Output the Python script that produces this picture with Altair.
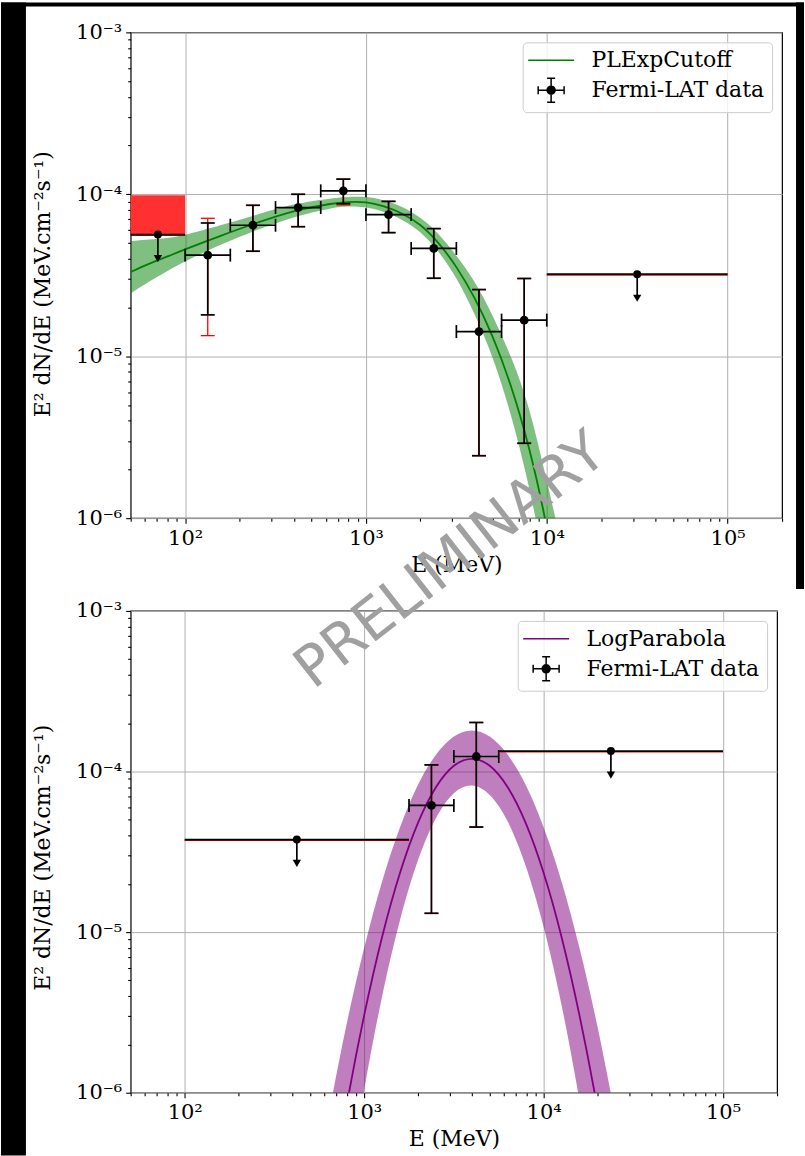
import altair as alt
import pandas as pd

# ---------------- data: top panel (PLExpCutoff) ----------------
top_model_E = [50, 63.1, 79.4, 100, 158.5, 251.2, 398.1, 631, 794.3, 1000, 1259, 1585, 1995,
               2512, 3162, 3981, 5012, 6310, 7943, 10000, 12589]
top_model_F = [3.31e-5, 3.72e-5, 4.12e-5, 4.57e-5, 5.56e-5, 6.68e-5, 7.85e-5, 8.71e-5, 8.95e-5,
               8.91e-5, 8.41e-5, 7.59e-5, 6.46e-5, 5.01e-5, 3.55e-5, 2.29e-5, 1.32e-5, 6.61e-6,
               2.75e-6, 8.71e-7, 2.0e-7]
top_band_hi = [5.13e-5, 5.25e-5, 5.37e-5, 5.62e-5, 6.46e-5, 7.50e-5, 8.65e-5, 9.40e-5, 9.62e-5,
               9.62e-5, 9.15e-5, 8.36e-5, 7.16e-5, 5.69e-5, 4.17e-5, 2.88e-5, 1.78e-5, 1.0e-5,
               4.79e-6, 1.70e-6, 5.6e-7]
top_band_lo = [2.45e-5, 2.88e-5, 3.35e-5, 3.85e-5, 4.90e-5, 6.03e-5, 7.20e-5, 8.15e-5, 8.40e-5,
               8.30e-5, 7.78e-5, 6.95e-5, 5.82e-5, 4.42e-5, 3.02e-5, 1.82e-5, 9.77e-6, 4.37e-6,
               1.58e-6, 4.37e-7, 1.0e-7]

top_pt_E = [133.4, 237.1, 421.7, 749.9, 1333.5, 2371.4, 4217.0, 7498.9]
top_pt_Elo = [100, 177.8, 316.2, 562.3, 1000, 1778.3, 3162.3, 5623.4]
top_pt_Ehi = [177.8, 316.2, 562.3, 1000, 1778.3, 3162.3, 5623.4, 10000]
top_pt_F = [4.21e-5, 6.44e-5, 8.28e-5, 1.05e-4, 7.49e-5, 4.63e-5, 1.42e-5, 1.67e-5]
top_pt_Flo = [1.80e-5, 4.45e-5, 6.31e-5, 8.75e-5, 5.80e-5, 3.03e-5, 2.43e-6, 2.90e-6]
top_pt_Fhi = [6.65e-5, 8.55e-5, 1.00e-4, 1.24e-4, 9.05e-5, 6.14e-5, 2.58e-5, 3.02e-5]
top_pt_Flo_sys = [1.34e-5, 4.45e-5, 6.31e-5, 8.60e-5, 5.80e-5, 3.03e-5, 2.43e-6, 2.90e-6]
top_pt_Fhi_sys = [7.11e-5, 8.55e-5, 1.00e-4, 1.24e-4, 9.05e-5, 6.14e-5, 2.58e-5, 3.02e-5]

top_ul_E = [70.7, 31623]
top_ul_Elo = [50, 10000]
top_ul_Ehi = [100, 100000]
top_ul_F = [5.64e-5, 3.21e-5]
top_ul_arrow = [4.0e-5, 2.28e-5]

top_box_Elo = [50]
top_box_Ehi = [100]
top_box_Flo = [5.64e-5]
top_box_Fhi = [9.85e-5]

# ---------------- data: bottom panel (LogParabola) ----------------
bot_model_E = [631, 794, 1000, 1259, 1585, 1995, 2512, 3162, 3981, 5012, 6310, 7943, 10000,
               12589, 15849, 19953, 25119]
bot_model_F = [1.74e-7, 8.0e-7, 3.03e-6, 9.33e-6, 2.34e-5, 4.79e-5, 7.98e-5, 1.086e-4, 1.20e-4,
               1.086e-4, 7.98e-5, 4.79e-5, 2.34e-5, 9.33e-6, 3.03e-6, 8.0e-7, 1.74e-7]
bot_band_hi = [7.06e-7, 2.59e-6, 7.96e-6, 2.07e-5, 4.50e-5, 8.26e-5, 1.27e-4, 1.65e-4, 1.80e-4,
               1.65e-4, 1.27e-4, 8.26e-5, 4.50e-5, 2.07e-5, 7.96e-6, 2.59e-6, 7.06e-7]
bot_band_lo = [3.3e-8, 2.11e-7, 1.04e-6, 3.98e-6, 1.19e-5, 2.80e-5, 5.12e-5, 7.33e-5, 8.18e-5,
               7.14e-5, 4.88e-5, 2.59e-5, 1.08e-5, 3.52e-6, 8.93e-7, 1.77e-7, 2.75e-8]

bot_pt_E = [2371.4, 4217.0]
bot_pt_Elo = [1778.3, 3162.3]
bot_pt_Ehi = [3162.3, 5623.4]
bot_pt_F = [6.15e-5, 1.24e-4]
bot_pt_Flo = [1.31e-5, 4.51e-5]
bot_pt_Fhi = [1.10e-4, 2.02e-4]

bot_ul_E = [421.7, 23714]
bot_ul_Elo = [100, 5623.4]
bot_ul_Ehi = [1778.3, 100000]
bot_ul_F = [3.77e-5, 1.34e-4]
bot_ul_arrow = [2.68e-5, 9.51e-5]

watermark = ["PRELIMINARY"]

# tick values: labelled decades and unlabelled minor ticks
x_major = [100, 1000, 10000, 100000]
x_minor = [50, 60, 70, 80, 90, 200, 300, 400, 500, 600, 700, 800, 900,
           2000, 3000, 4000, 5000, 6000, 7000, 8000, 9000,
           20000, 30000, 40000, 50000, 60000, 70000, 80000, 90000, 200000]
y_major = [1e-6, 1e-5, 1e-4, 1e-3]
y_minor = [2e-6, 3e-6, 4e-6, 5e-6, 6e-6, 7e-6, 8e-6, 9e-6,
           2e-5, 3e-5, 4e-5, 5e-5, 6e-5, 7e-5, 8e-5, 9e-5,
           2e-4, 3e-4, 4e-4, 5e-4, 6e-4, 7e-4, 8e-4, 9e-4]

X_LABELS = ("datum.value >= 99999 ? '10⁵' : datum.value >= 9999 ? '10⁴' : "
            "datum.value >= 999 ? '10³' : '10²'")
Y_LABELS = ("datum.value >= 0.00099 ? '10⁻³' : datum.value >= 0.000099 ? '10⁻⁴' : "
            "datum.value >= 0.0000099 ? '10⁻⁵' : '10⁻⁶'")

FONT = "DejaVu Serif"
LINE_PATH = "M-1.25,0H3.35"


def ring(cx, r):
    return f"M{cx + r},0A{r},{r},0,1,1,{cx - r},0A{r},{r},0,1,1,{cx + r},0"


ERR_PATH = ("M-0.25,0H2.35M-0.25,-0.4V0.4M2.35,-0.4V0.4M1.05,-1.2V1.2M0.65,-1.2H1.45M0.65,1.2H1.45"
            + ring(1.05, 0.4) + ring(1.05, 0.28) + ring(1.05, 0.16) + ring(1.05, 0.05))


def x_major_axis():
    return alt.Axis(orient="bottom", values=x_major, labelExpr=X_LABELS, title="E (MeV)",
                    titlePadding=6, grid=True, tickSize=5, labelOverlap=False,
                    labelFlush=False, domain=False)


def y_major_axis(title_y):
    return alt.Axis(orient="left", values=y_major, labelExpr=Y_LABELS,
                    title="E² dN/dE (MeV.cm⁻²s⁻¹)", titlePadding=21, titleY=title_y,
                    grid=True, tickSize=5, labelOverlap=False, labelFlush=False, domain=False)


def minor_axis(orient):
    return alt.Axis(orient=orient, values=(x_minor if orient == "bottom" else y_minor),
                    labels=False, title=None, grid=False, tickSize=3, domain=False)


def panel(model_name, color, width, height, legend_offset, title_y, m_df, p_df, u_df,
          box_df=None, extra=()):
    xs = alt.Scale(type="log", domain=[50, 200000], nice=False)
    ys = alt.Scale(type="log", domain=[1e-6, 1e-3], nice=False)

    def X(f, axis=None):
        return alt.X(f, type="quantitative", scale=xs, axis=axis)

    def Y(f, axis=None):
        return alt.Y(f, type="quantitative", scale=ys, axis=axis)

    lw = 1.7
    lw_red = 1.3
    layers = []
    layers.append(alt.Chart(m_df).mark_area(color=color, opacity=0.5, interpolate="natural",
                                            clip=True).encode(
        x=X("E", x_major_axis()), y=Y("hi", y_major_axis(title_y)), y2="lo"))
    layers.append(alt.Chart(m_df).mark_line(color=color, strokeWidth=1.8, interpolate="natural",
                                            clip=True).encode(
        x=X("E", minor_axis("bottom")), y=Y("F", minor_axis("left"))))
    if box_df is not None:
        layers.append(alt.Chart(box_df).mark_rect(color="#ff3030", opacity=1).encode(
            x=X("Elo"), x2="Ehi", y=Y("Flo"), y2="Fhi"))
    # systematic (red) error bars underneath
    layers.append(alt.Chart(p_df).mark_rule(color="red", strokeWidth=lw_red).encode(
        x=X("E"), y=Y("Flo_s"), y2="Fhi_s"))
    for f in ["Flo_s", "Fhi_s"]:
        layers.append(alt.Chart(p_df).mark_tick(orient="horizontal", color="red",
                                                thickness=lw_red, opacity=1).encode(
            x=X("E"), y=Y(f), size=alt.value(14)))
    # statistical (black) error bars
    layers.append(alt.Chart(p_df).mark_rule(color="black", strokeWidth=lw).encode(
        x=X("E"), y=Y("Flo"), y2="Fhi"))
    layers.append(alt.Chart(p_df).mark_rule(color="black", strokeWidth=lw).encode(
        x=X("Elo"), x2="Ehi", y=Y("F")))
    for f in ["Flo", "Fhi"]:
        layers.append(alt.Chart(p_df).mark_tick(orient="horizontal", color="black",
                                                thickness=lw, opacity=1).encode(
            x=X("E"), y=Y(f), size=alt.value(14)))
    for f in ["Elo", "Ehi"]:
        layers.append(alt.Chart(p_df).mark_tick(orient="vertical", color="black",
                                                thickness=lw, opacity=1).encode(
            x=X(f), y=Y("F"), size=alt.value(13)))
    layers.append(alt.Chart(p_df).mark_circle(color="black", opacity=1, size=78).encode(
        x=X("E"), y=Y("F")))
    # upper limits
    layers.append(alt.Chart(u_df).mark_rule(color="red", strokeWidth=1.2, yOffset=0.9).encode(
        x=X("Elo"), x2="Ehi", y=Y("F")))
    layers.append(alt.Chart(u_df).mark_rule(color="black", strokeWidth=lw).encode(
        x=X("Elo"), x2="Ehi", y=Y("F")))
    layers.append(alt.Chart(u_df).mark_rule(color="black", strokeWidth=lw).encode(
        x=X("E"), y=Y("F"), y2="Fa"))
    layers.append(alt.Chart(u_df).mark_point(shape="triangle-down", filled=True, color="black",
                                             opacity=1, size=70).encode(x=X("E"), y=Y("Fa")))
    layers.append(alt.Chart(u_df).mark_circle(color="black", opacity=1, size=64).encode(
        x=X("E"), y=Y("F")))

    # legend (driven by explicit scale domain; rows have no coordinates)
    names = [model_name, "Fermi-LAT data"]
    leg_df = pd.DataFrame({"series": names, "E": [None, None], "F": [None, None]})
    leg = alt.Legend(title=None, orient="top-right", offset=legend_offset, padding=7,
                     labelFont=FONT, labelFontSize=22, labelColor="black", labelOffset=40,
                     labelLimit=400, symbolSize=400, symbolStrokeWidth=1.5, rowPadding=4,
                     fillColor="rgba(255,255,255,0.8)", strokeColor="#cccccc", cornerRadius=4)
    layers.append(alt.Chart(leg_df).mark_point(filled=False, opacity=1, strokeWidth=1.5).encode(
        x=X("E"), y=Y("F"),
        color=alt.Color("series:N", scale=alt.Scale(domain=names, range=[color, "black"]),
                        legend=leg),
        shape=alt.Shape("series:N", scale=alt.Scale(domain=names, range=[LINE_PATH, ERR_PATH]),
                        legend=leg)))
    layers.extend(extra)
    return alt.layer(*layers).resolve_axis(x="independent", y="independent").properties(
        width=width, height=height)


top_m = pd.DataFrame({"E": top_model_E, "F": top_model_F, "hi": top_band_hi, "lo": top_band_lo})
top_p = pd.DataFrame({"E": top_pt_E, "Elo": top_pt_Elo, "Ehi": top_pt_Ehi, "F": top_pt_F,
                      "Flo": top_pt_Flo, "Fhi": top_pt_Fhi, "Flo_s": top_pt_Flo_sys,
                      "Fhi_s": top_pt_Fhi_sys})
top_u = pd.DataFrame({"E": top_ul_E, "Elo": top_ul_Elo, "Ehi": top_ul_Ehi, "F": top_ul_F,
                      "Fa": top_ul_arrow})
top_b = pd.DataFrame({"Elo": top_box_Elo, "Ehi": top_box_Ehi, "Flo": top_box_Flo,
                      "Fhi": top_box_Fhi})

bot_m = pd.DataFrame({"E": bot_model_E, "F": bot_model_F, "hi": bot_band_hi, "lo": bot_band_lo})
bot_p = pd.DataFrame({"E": bot_pt_E, "Elo": bot_pt_Elo, "Ehi": bot_pt_Ehi, "F": bot_pt_F,
                      "Flo": bot_pt_Flo, "Fhi": bot_pt_Fhi, "Flo_s": bot_pt_Flo,
                      "Fhi_s": bot_pt_Fhi})
bot_u = pd.DataFrame({"E": bot_ul_E, "Elo": bot_ul_Elo, "Ehi": bot_ul_Ehi, "F": bot_ul_F,
                      "Fa": bot_ul_arrow})

# dark page frame around the figure (pure decoration)
one = pd.DataFrame({"k": [0]})
frame = [
    alt.Chart(one).mark_rect(color="black").encode(
        x=alt.value(-130), x2=alt.value(-105), y=alt.value(-30), y2=alt.value(1126)),
    alt.Chart(one).mark_rect(color="black").encode(
        x=alt.value(-130), x2=alt.value(675), y=alt.value(-30), y2=alt.value(-26)),
    alt.Chart(one).mark_rect(color="black").encode(
        x=alt.value(667), x2=alt.value(675), y=alt.value(-30), y2=alt.value(558)),
]

wm = alt.Chart(pd.DataFrame({"t": watermark})).mark_text(
    angle=322, fontSize=57, font="DejaVu Sans", color="#a0a0a0", align="center",
    baseline="middle").encode(x=alt.value(321), y=alt.value(-50), text="t:N")

top = panel("PLExpCutoff", "green", 653, 487, 10, 252, top_m, top_p, top_u, box_df=top_b,
            extra=frame)
bottom = panel("LogParabola", "purple", 648, 483, 10, 247, bot_m, bot_p, bot_u, extra=[wm])

chart = alt.vconcat(top, bottom, spacing=93, bounds="flush").resolve_scale(
    color="independent", shape="independent").properties(padding=0).configure(
    background="white").configure_view(stroke="black", strokeWidth=1.2).configure_axis(
    labelFont=FONT, labelFontSize=21, labelColor="black", labelPadding=4,
    titleFont=FONT, titleFontSize=22, titleFontWeight="normal", titleColor="black",
    tickColor="black", tickWidth=1.1, gridColor="#b0b0b0", gridWidth=1)

chart.save("out.html", embed_options={"renderer": "svg", "actions": False})
